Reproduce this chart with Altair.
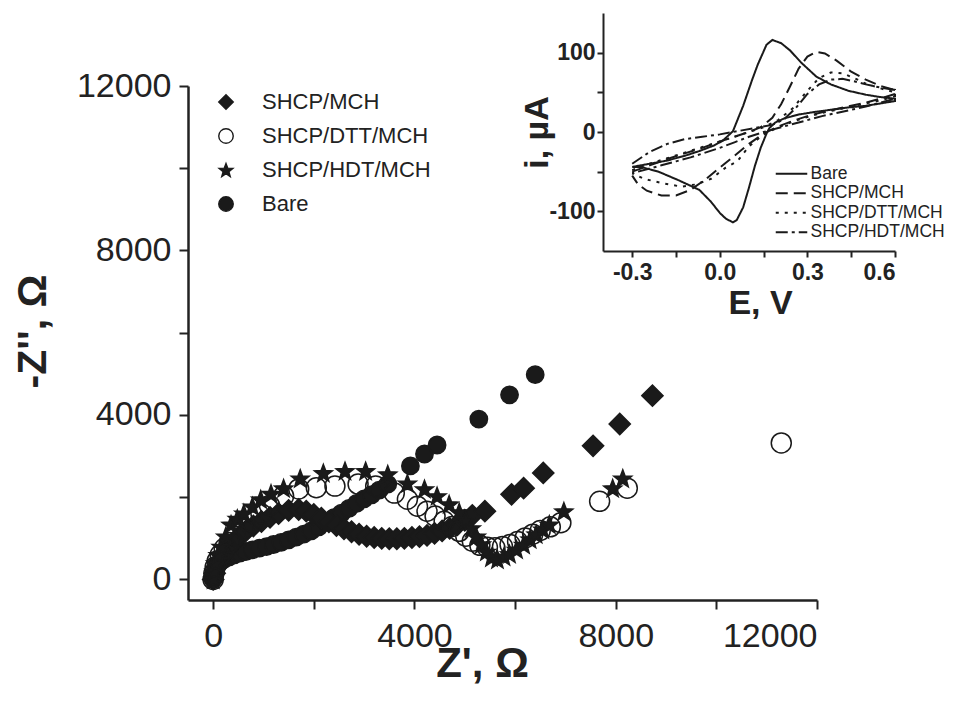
import math
import altair as alt
import pandas as pd

# ---------------- Nyquist data (Z', -Z'') ----------------
series_order = ["SHCP/MCH", "SHCP/DTT/MCH", "SHCP/HDT/MCH", "Bare"]

bare_zr = [0, 20, 50, 90, 150, 230, 320, 420, 530, 650, 780, 920, 1060, 1200, 1350, 1500, 1650, 1800,
           1950, 2100, 2250, 2400, 2550, 2700, 2850, 3000, 3150, 3300, 3470, 3920, 4200, 4450, 5280, 5890, 6400]
bare_zi = [0, 120, 250, 360, 440, 500, 550, 600, 640, 680, 720, 760, 800, 850, 900, 960, 1030, 1100,
           1180, 1280, 1390, 1500, 1610, 1730, 1850, 1960, 2060, 2170, 2320, 2760, 3050, 3270, 3900, 4490, 4980]

mch_zr = [0, 30, 70, 130, 200, 290, 400, 520, 650, 800, 960, 1130, 1300, 1500, 1700, 1850, 2000, 2150, 2300,
          2450, 2600, 2750, 2900, 3050, 3200, 3350, 3500, 3650, 3800, 3950, 4100, 4250, 4400, 4550, 4700, 4850,
          5000, 5150, 5400, 5930, 6170, 6560, 7550, 8080, 8730]
mch_zi = [0, 150, 300, 450, 600, 750, 900, 1050, 1180, 1300, 1410, 1510, 1600, 1680, 1700, 1660, 1580, 1490, 1400,
          1310, 1230, 1160, 1100, 1050, 1020, 1000, 990, 990, 1000, 1020, 1040, 1070, 1120, 1180, 1240, 1330,
          1440, 1560, 1660, 2070, 2220, 2590, 3250, 3780, 4470]

dtt_zr = [0, 15, 40, 80, 140, 220, 320, 440, 600, 780, 950, 1120, 1400, 1700, 2050, 2420, 2880, 3230, 3600, 3860,
          4060, 4250, 4410, 4590, 4750, 4890, 5020, 5150, 5300, 5450, 5600, 5750, 5900, 6050, 6200, 6350, 6500,
          6700, 6910, 7680, 8230, 11290]
dtt_zi = [0, 150, 300, 450, 600, 750, 900, 1050, 1220, 1400, 1600, 1800, 2030, 2200, 2230, 2270, 2320, 2270, 2100,
          1950, 1780, 1660, 1540, 1415, 1290, 1170, 1050, 930, 830, 780, 770, 800, 850, 920, 1010, 1100, 1190,
          1280, 1380, 1900, 2220, 3320]

hdt_zr = [0, 20, 50, 100, 160, 250, 355, 480, 610, 780, 945, 1150, 1400, 1730, 2190, 2620, 3030, 3470, 3860,
          4200, 4450, 4690, 4890, 5020, 5130, 5230, 5330, 5430, 5530, 5650, 5780, 5890, 6030, 6170, 6300, 6420,
          6550, 6680, 6970, 7940, 8140]
hdt_zi = [0, 200, 400, 600, 800, 1050, 1340, 1480, 1610, 1780, 1950, 2090, 2220, 2460, 2590, 2640, 2640, 2560, 2340,
          2200, 2030, 1830, 1640, 1450, 1250, 1050, 860, 680, 540, 490, 560, 620, 730, 850, 980, 1100,
          1220, 1340, 1660, 2220, 2460]

# ---------------- Inset CV data (E, i) ----------------
cv_order = ["Bare", "SHCP/MCH", "SHCP/DTT/MCH", "SHCP/HDT/MCH"]

bare_E = [-0.30, -0.24, -0.18, -0.12, -0.07, -0.02, 0.01, 0.045, 0.08, 0.11, 0.13, 0.16, 0.18, 0.21, 0.24, 0.28,
          0.33, 0.38, 0.44, 0.50, 0.55, 0.60,
          0.60, 0.55, 0.50, 0.44, 0.38, 0.32, 0.27, 0.22, 0.19, 0.17, 0.16, 0.14, 0.12, 0.10, 0.08, 0.058, 0.045,
          0.02, 0.00, -0.03, -0.07, -0.14, -0.21, -0.27, -0.30]
bare_i = [-44, -40, -36, -30, -24, -17, -11, 1, 33, 65, 85, 110, 116, 112, 103, 87,
          70, 60, 52, 47, 44, 42,
          39, 36, 33, 31, 28, 25, 22, 17, 12, 5, -2, -20, -43, -70, -95, -111, -114,
          -109, -102, -88, -73, -61, -50, -44, -44]

mch_E = [-0.30, -0.24, -0.18, -0.12, -0.06, 0.00, 0.05, 0.10, 0.14, 0.18, 0.21, 0.24, 0.27, 0.30, 0.33, 0.36,
         0.40, 0.45, 0.50, 0.55, 0.60,
         0.60, 0.55, 0.50, 0.45, 0.40, 0.35, 0.30, 0.25, 0.20, 0.15, 0.10, 0.05, 0.00, -0.05, -0.10, -0.15,
         -0.20, -0.25, -0.28, -0.30]
mch_i = [-50, -42, -34, -27, -20, -12, -6, 0, 6, 18, 35, 57, 80, 95, 101, 99,
         90, 76, 66, 58, 53,
         48, 42, 37, 33, 29, 25, 20, 14, 7, -2, -15, -30, -45, -60, -73, -80,
         -80, -74, -66, -55]

dtt_E = [-0.30, -0.24, -0.18, -0.12, -0.06, 0.00, 0.05, 0.10, 0.15, 0.20, 0.25, 0.30, 0.34, 0.38, 0.42, 0.46,
         0.50, 0.55, 0.60,
         0.60, 0.55, 0.50, 0.45, 0.40, 0.35, 0.30, 0.25, 0.20, 0.15, 0.10, 0.06, 0.02, -0.03, -0.08, -0.13,
         -0.19, -0.26, -0.30]
dtt_i = [-48, -40, -33, -26, -19, -12, -6, 0, 6, 15, 30, 52, 68, 75, 74, 68,
         61, 55, 50,
         45, 40, 36, 32, 28, 24, 19, 13, 6, -3, -18, -37, -45, -59, -66, -69,
         -65, -59, -52]

hdt_E = [-0.30, -0.24, -0.18, -0.12, -0.06, 0.00, 0.06, 0.12, 0.18, 0.22, 0.26, 0.30, 0.34, 0.38, 0.42, 0.46,
         0.50, 0.55, 0.60,
         0.60, 0.55, 0.50, 0.45, 0.40, 0.35, 0.30, 0.25, 0.20, 0.15, 0.10, 0.05, 0.00, -0.05, -0.10, -0.15,
         -0.20, -0.25, -0.30]
hdt_i = [-40, -25, -15, -9, -6, -3, 1, 5, 9, 16, 30, 48, 60, 66, 67, 64,
         60, 56, 53,
         42, 37, 32, 28, 24, 20, 15, 10, 5, 0, -6, -13, -20, -26, -32, -37,
         -42, -47, -52]

# ---------------- tables ----------------
rows = []
ordn = 0
for name, xs, ys in [("Bare", bare_zr, bare_zi), ("SHCP/MCH", mch_zr, mch_zi),
                     ("SHCP/DTT/MCH", dtt_zr, dtt_zi), ("SHCP/HDT/MCH", hdt_zr, hdt_zi)]:
    for a, b in zip(xs, ys):
        rows.append({"series": name, "zr": a, "zi": b, "ord": ordn})
        ordn += 1
df_main = pd.DataFrame(rows)

cv_rows = []
for name, es, cs in [("Bare", bare_E, bare_i), ("SHCP/MCH", mch_E, mch_i),
                     ("SHCP/DTT/MCH", dtt_E, dtt_i), ("SHCP/HDT/MCH", hdt_E, hdt_i)]:
    for k, (e, c) in enumerate(zip(es, cs)):
        cv_rows.append({"curve": name, "E": e, "I": c, "k": k})
df_cv = pd.DataFrame(cv_rows)

# star symbol path (unit box)
pts = []
for k in range(10):
    r = 1.0 if k % 2 == 0 else 0.42
    a = -math.pi / 2 + k * math.pi / 5
    pts.append((r * math.cos(a), r * math.sin(a) + 0.09))
star = "M" + "L".join(f"{x:.3f},{y:.3f}" for x, y in pts) + "Z"
# wide line symbol for the inset legend (extends left of the symbol box)
line_sym = "M-3.2,0L1,0"

FONT = "Liberation Sans"
INK = "#1a1a1a"

main_legend = alt.Legend(
    orient="none", legendX=27, legendY=5, title=None, padding=0, labelLimit=0,
    labelFont=FONT, labelFontSize=22, labelColor="#222", labelOffset=25,
    symbolSize=210, rowPadding=12, symbolStrokeWidth=1.4,
)

main = alt.Chart(df_main).mark_point(filled=False, opacity=1, strokeWidth=1.5).encode(
    x=alt.X("zr:Q",
            scale=alt.Scale(domain=[-500, 12000], nice=False, zero=False),
            axis=alt.Axis(values=list(range(0, 12001, 2000)), format="d",
                          labelExpr="datum.value % 4000 == 0 ? datum.label : ''",
                          title="Z', Ω", titleFontSize=42, titleFontWeight="bold",
                          titlePadding=-10, labelFontSize=34, labelPadding=10, tickSize=9,
                          titleX=294)),
    y=alt.Y("zi:Q",
            scale=alt.Scale(domain=[-500, 12000], nice=False, zero=False),
            axis=alt.Axis(values=list(range(0, 12001, 2000)), format="d",
                          labelExpr="datum.value % 4000 == 0 ? datum.label : ''",
                          title="-Z'', Ω", titleFontSize=41, titleFontWeight="bold",
                          titlePadding=22, labelFontSize=34, labelPadding=8, tickSize=9,
                          titleY=245)),
    shape=alt.Shape("series:N", scale=alt.Scale(domain=series_order, range=["diamond", "circle", star, "circle"]),
                    legend=main_legend),
    fill=alt.Fill("series:N", scale=alt.Scale(domain=series_order, range=[INK, "transparent", INK, INK]),
                  legend=main_legend),
    stroke=alt.Stroke("series:N", scale=alt.Scale(domain=series_order, range=[INK, INK, INK, INK]),
                      legend=main_legend),
    size=alt.Size("series:O", scale=alt.Scale(domain=series_order, range=[450, 300, 480, 350]), legend=None),
    order=alt.Order("ord:Q"),
)

inset_legend = alt.Legend(
    orient="none", legendX=603, legendY=79, title=None, padding=0, labelLimit=0,
    labelFont=FONT, labelFontSize=17.5, labelColor="#222", labelOffset=2,
    symbolType=line_sym, symbolSize=225, symbolStrokeWidth=2, symbolStrokeColor=INK,
    symbolFillColor="transparent", rowPadding=0.5,
)

dashes = [[1, 0], [12, 6], [3, 6], [12, 4, 3, 4]]

inset = alt.Chart(df_cv).mark_line(color=INK, strokeWidth=2).encode(
    x=alt.X("E:Q",
            scale=alt.Scale(domain=[-0.4, 0.6], range=[415, 707], nice=False, zero=False),
            axis=alt.Axis(orient="bottom", offset=-349,
                          values=[-0.3, -0.15, 0.0, 0.15, 0.3, 0.45, 0.6],
                          labelExpr="abs(datum.value*10/3 - round(datum.value*10/3)) < 0.01 ? "
                                    "((datum.value < -0.001 ? '-' : '') + format(abs(datum.value), '.1f')) : ''",
                          title="E, V", titleFontSize=34, titleFontWeight="bold", titlePadding=2,
                          labelFontSize=23, labelFontWeight="bold", labelPadding=4, tickSize=6,
                          domainWidth=2, tickWidth=2, titleX=572)),
    y=alt.Y("I:Q",
            scale=alt.Scale(domain=[-150, 150], range=[165, -73], nice=False, zero=False),
            axis=alt.Axis(orient="left", offset=-415,
                          values=[-100, -50, 0, 50, 100],
                          labelExpr="datum.value % 100 == 0 ? ((datum.value < 0 ? '-' : '') + format(abs(datum.value), 'd')) : ''",
                          title="i, µA", titleFontSize=34, titleFontWeight="bold", titlePadding=-6,
                          labelFontSize=23, labelFontWeight="bold", labelPadding=2, tickSize=6,
                          domainWidth=2, tickWidth=2)),
    strokeDash=alt.StrokeDash("curve:N", scale=alt.Scale(domain=cv_order, range=dashes), legend=inset_legend),
    order=alt.Order("k:Q"),
)

chart = alt.layer(main, inset).resolve_scale(
    x="independent", y="independent", shape="independent", fill="independent",
    stroke="independent", strokeDash="independent"
).resolve_axis(x="independent", y="independent").properties(
    width=629, height=514,
    autosize=alt.AutoSizeParams(type="none"),
    padding={"left": 180, "top": 78, "right": 138, "bottom": 90},
).configure_view(stroke=None).configure_axis(
    grid=False, domainColor="#222", tickColor="#222", domainWidth=2.5, tickWidth=2,
    labelColor="#222", titleColor="#222", labelFont=FONT, titleFont=FONT,
).configure_legend(labelFont=FONT)

chart.save("out.html", embed_options={"renderer": "svg", "actions": False})
